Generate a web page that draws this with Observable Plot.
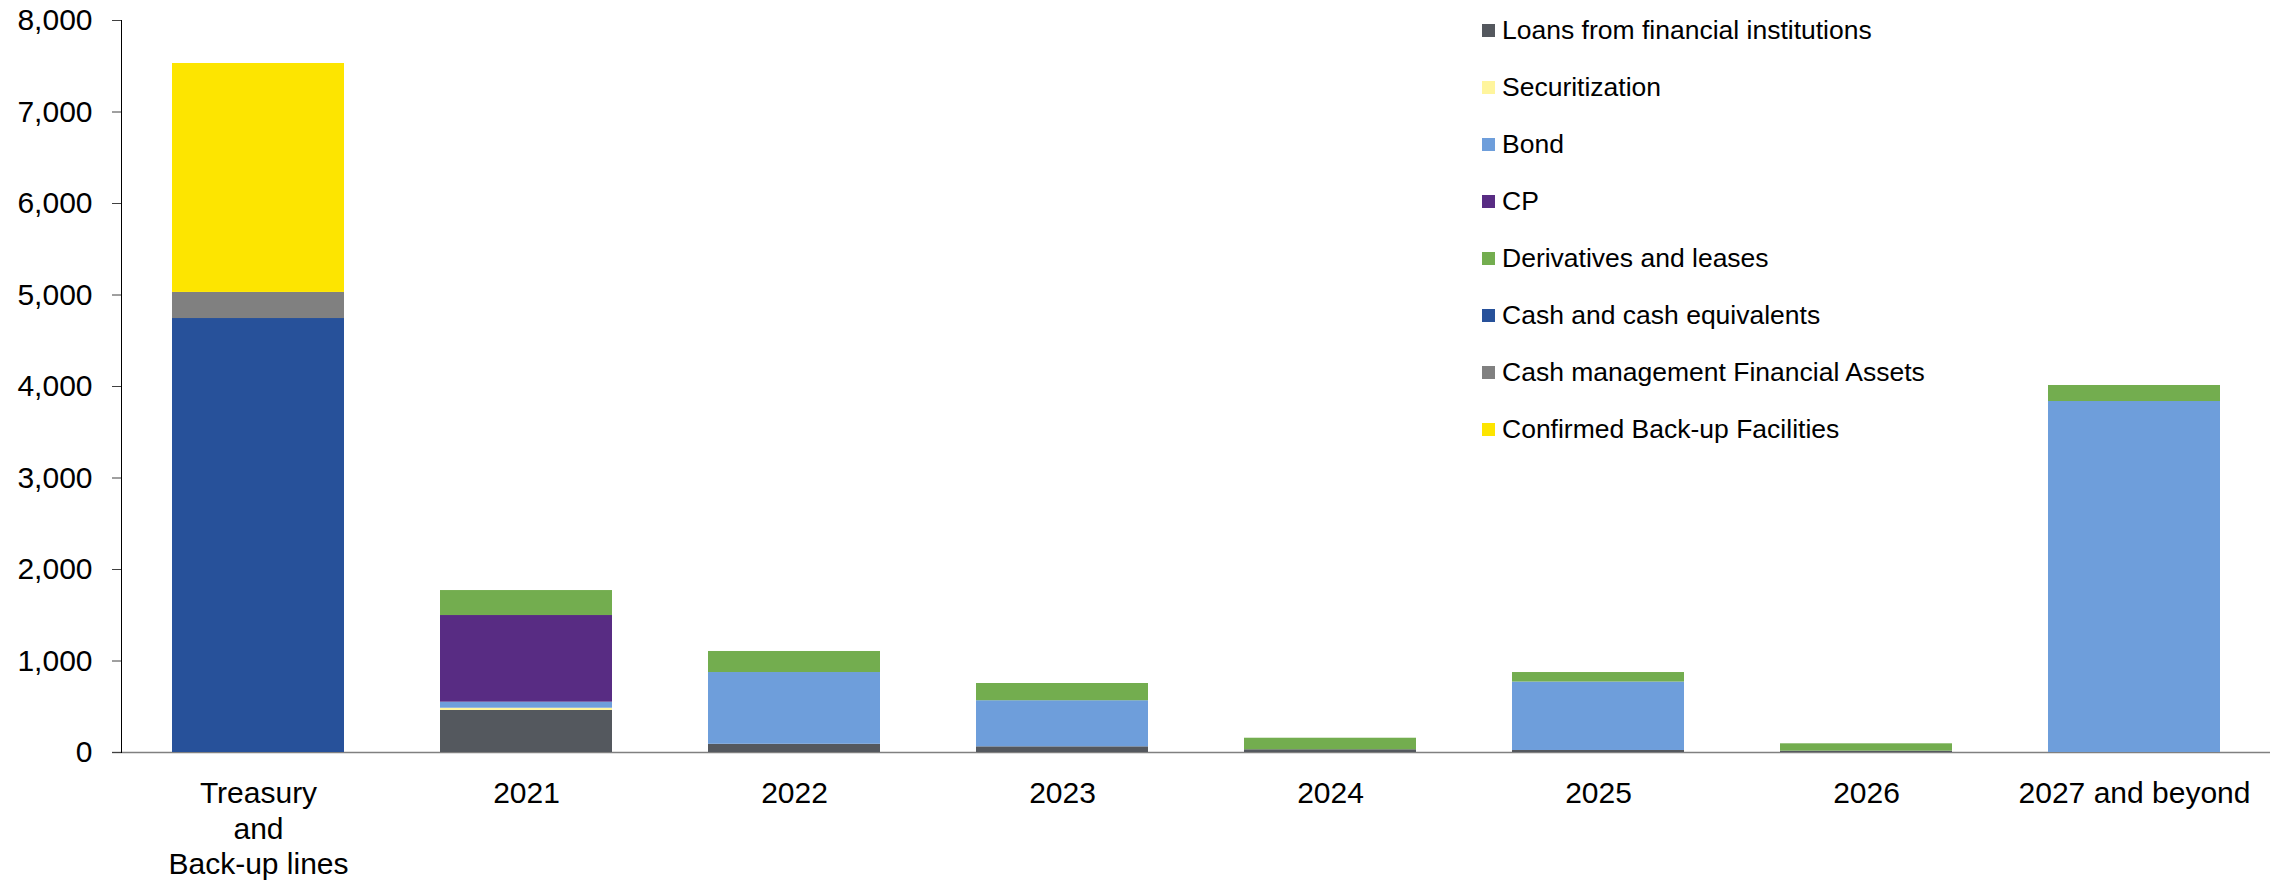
<!DOCTYPE html>
<html>
<head>
<meta charset="utf-8">
<script src="https://cdn.jsdelivr.net/npm/d3@7"></script>
<script src="https://cdn.jsdelivr.net/npm/@observablehq/plot@0.6"></script>
<style>
  html, body { margin: 0; padding: 0; background: #fff; }
  #wrap { position: relative; width: 2278px; height: 882px; font-family: "Liberation Sans", Arial, sans-serif; }
  #legend { position: absolute; left: 1482px; top: 2px; }
  .row { display: flex; align-items: center; height: 57px; font-size: 26.5px; color: #000; white-space: nowrap; }
  .sw { width: 13px; height: 13px; margin-right: 7px; flex: none; }
</style>
</head>
<body>
<div id="wrap"><div id="legend"></div></div>
<script>
const categories = ["Treasury\nand\nBack-up lines", "2021", "2022", "2023", "2024", "2025", "2026", "2027 and beyond"];
const seriesNames = [
  "Loans from financial institutions",
  "Securitization",
  "Bond",
  "CP",
  "Derivatives and leases",
  "Cash and cash equivalents",
  "Cash management Financial Assets",
  "Confirmed Back-up Facilities"
];
const seriesColors = ["#54585e", "#fff59d", "#6e9edb", "#582c83", "#73ad4f", "#27519a", "#808080", "#fde500"];

const loans          = [0, 459, 90, 62, 30, 22, 15, 0];
const securitization = [0, 25, 0, 0, 0, 0, 0, 0];
const bond           = [0, 66, 784, 504, 0, 748, 0, 3836];
const cp             = [0, 947, 0, 0, 0, 0, 0, 0];
const derivatives    = [0, 273, 230, 188, 126, 104, 80, 175];
const cash           = [4743, 0, 0, 0, 0, 0, 0, 0];
const cashMgmt       = [285, 0, 0, 0, 0, 0, 0, 0];
const backup         = [2502, 0, 0, 0, 0, 0, 0, 0];
const yTicks = [0, 1000, 2000, 3000, 4000, 5000, 6000, 7000, 8000];

const seriesValues = [loans, securitization, bond, cp, derivatives, cash, cashMgmt, backup];
const data = [];
categories.forEach((c, i) => {
  seriesNames.forEach((s, j) => {
    data.push({category: c, series: s, value: seriesValues[j][i]});
  });
});

const chart = Plot.plot({
  width: 2278,
  height: 882,
  marginTop: 20,
  marginBottom: 130,
  marginLeft: 121,
  marginRight: 8,
  style: {fontFamily: '"Liberation Sans", Arial, sans-serif', fontSize: "30px", color: "#000", background: "#fff"},
  x: {domain: categories, paddingInner: 0.36, paddingOuter: 0.18, label: null},
  y: {domain: [0, 8000], label: null},
  color: {domain: seriesNames, range: seriesColors},
  marks: [
    Plot.ruleY([0], {stroke: "#808080", strokeWidth: 1.5, insetLeft: -9}),
    Plot.barY(data, {x: "category", y: "value", fill: "series", order: null}),
    Plot.frame({anchor: "left", stroke: "#000", strokeWidth: 1}),
    Plot.axisY({ticks: yTicks, tickFormat: d3.format(","), tickSize: 9, tickPadding: 20, stroke: "#404040", fontSize: 30, fill: "#000", label: null}),
    Plot.axisX({tickSize: 0, tickPadding: 26, fontSize: 30, fill: "#000", lineHeight: 1.17, label: null})
  ]
});
document.getElementById("wrap").prepend(chart);

const legend = document.getElementById("legend");
seriesNames.forEach((s, j) => {
  const row = document.createElement("div");
  row.className = "row";
  const sw = document.createElement("span");
  sw.className = "sw";
  sw.style.background = seriesColors[j];
  row.appendChild(sw);
  row.appendChild(document.createTextNode(s));
  legend.appendChild(row);
});
</script>
</body>
</html>
